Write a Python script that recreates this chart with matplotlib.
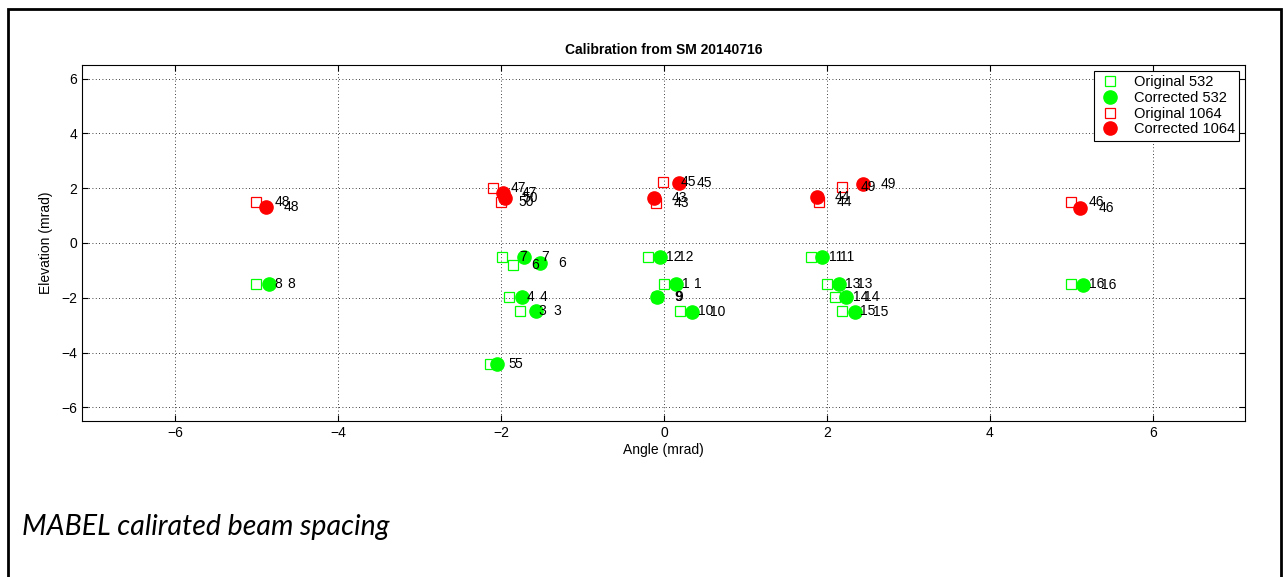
import numpy as np
import matplotlib
matplotlib.use("Agg")
import matplotlib.pyplot as plt
from matplotlib.patches import Rectangle

plt.rcParams['font.family'] = ['Liberation Sans', 'DejaVu Sans']

# 532 nm beams (beam 2 not present)
ids_532 = [1, 3, 4, 5, 6, 7, 8, 9, 10, 11, 12, 13, 14, 15, 16]
orig_x_532 = [0.00, -1.76, -1.90, -2.13, -1.85, -1.99, -5.00, -0.09, 0.20, 1.80, -0.20, 2.00, 2.10, 2.19, 4.99]
orig_y_532 = [-1.48, -2.48, -1.96, -4.43, -0.80, -0.50, -1.48, -1.98, -2.48, -0.50, -0.50, -1.48, -1.96, -2.48, -1.48]
corr_x_532 = [0.15, -1.57, -1.74, -2.05, -1.52, -1.72, -4.84, -0.08, 0.34, 1.94, -0.05, 2.15, 2.24, 2.35, 5.14]
corr_y_532 = [-1.50, -2.48, -1.99, -4.43, -0.72, -0.50, -1.50, -1.99, -2.51, -0.52, -0.52, -1.50, -1.99, -2.51, -1.54]

# 1064 nm beams
ids_1064 = [43, 44, 45, 46, 47, 48, 49, 50]
orig_x_1064 = [-0.10, 1.90, -0.01, 4.99, -2.10, -5.00, 2.19, -2.00]
orig_y_1064 = [1.47, 1.51, 2.24, 1.51, 2.00, 1.51, 2.04, 1.51]
corr_x_1064 = [-0.12, 1.88, 0.18, 5.11, -1.97, -4.88, 2.44, -1.95]
corr_y_1064 = [1.63, 1.67, 2.18, 1.29, 1.82, 1.33, 2.16, 1.63]

x_ticks = [-6, -4, -2, 0, 2, 4, 6]
y_ticks = [-6, -4, -2, 0, 2, 4, 6]

fig = plt.figure(figsize=(12.83, 5.77), dpi=100)
ax = fig.add_axes([82 / 1283, 1 - 421 / 577, (1245 - 82) / 1283, (421 - 65) / 577])

green = (0, 1, 0)
red = (1, 0, 0)
ax.plot(orig_x_532, orig_y_532, 's', ms=7, mfc='none', mec=green, mew=0.9, ls='none', label='Original 532')
ax.plot(corr_x_532, corr_y_532, 'o', ms=9.5, mfc=green, mec=green, ls='none', label='Corrected 532')
ax.plot(orig_x_1064, orig_y_1064, 's', ms=7, mfc='none', mec=red, mew=0.9, ls='none', label='Original 1064')
ax.plot(corr_x_1064, corr_y_1064, 'o', ms=9.5, mfc=red, mec=red, ls='none', label='Corrected 1064')

# beam numbers next to each marker
dx = 0.22
for ids, xs, ys in [(ids_532, orig_x_532, orig_y_532), (ids_532, corr_x_532, corr_y_532),
                    (ids_1064, orig_x_1064, orig_y_1064), (ids_1064, corr_x_1064, corr_y_1064)]:
    for n, x, y in zip(ids, xs, ys):
        ax.text(x + dx, y, str(n), fontsize=10, ha='left', va='center')

ax.set_xlim(-7.14, 7.13)
ax.set_ylim(-6.5, 6.5)
ax.set_xticks(x_ticks)
ax.set_yticks(y_ticks)
ax.tick_params(direction='in', top=True, right=True, length=4, labelsize=10)
ax.grid(True, color='black', linestyle=(0, (1, 3)), linewidth=0.6)
for s in ax.spines.values():
    s.set_linewidth(0.8)

ax.set_title('Calibration from SM 20140716', fontsize=10, fontweight='bold', pad=8)
ax.set_xlabel('Angle (mrad)', fontsize=10, labelpad=2)
ax.set_ylabel('Elevation (mrad)', fontsize=10, labelpad=6)

leg = ax.legend(loc='upper right', fontsize=10.5, fancybox=False, framealpha=1,
                edgecolor='black', borderaxespad=0.4, handletextpad=0.8,
                labelspacing=0.12, borderpad=0.3, handlelength=1.6)
leg.get_frame().set_linewidth(0.8)

fig.text(22 / 1283, 1 - 527 / 577, 'MABEL calirated beam spacing', fontsize=20.5,
         style='italic', family='Lato', ha='left', va='center')

fig.patches.append(Rectangle((8 / 1283, -0.02), (1281 - 8) / 1283, 1 - 9 / 577 + 0.02,
                             transform=fig.transFigure, fill=False, edgecolor='black', linewidth=2))

fig.savefig('out.png', dpi=100)
